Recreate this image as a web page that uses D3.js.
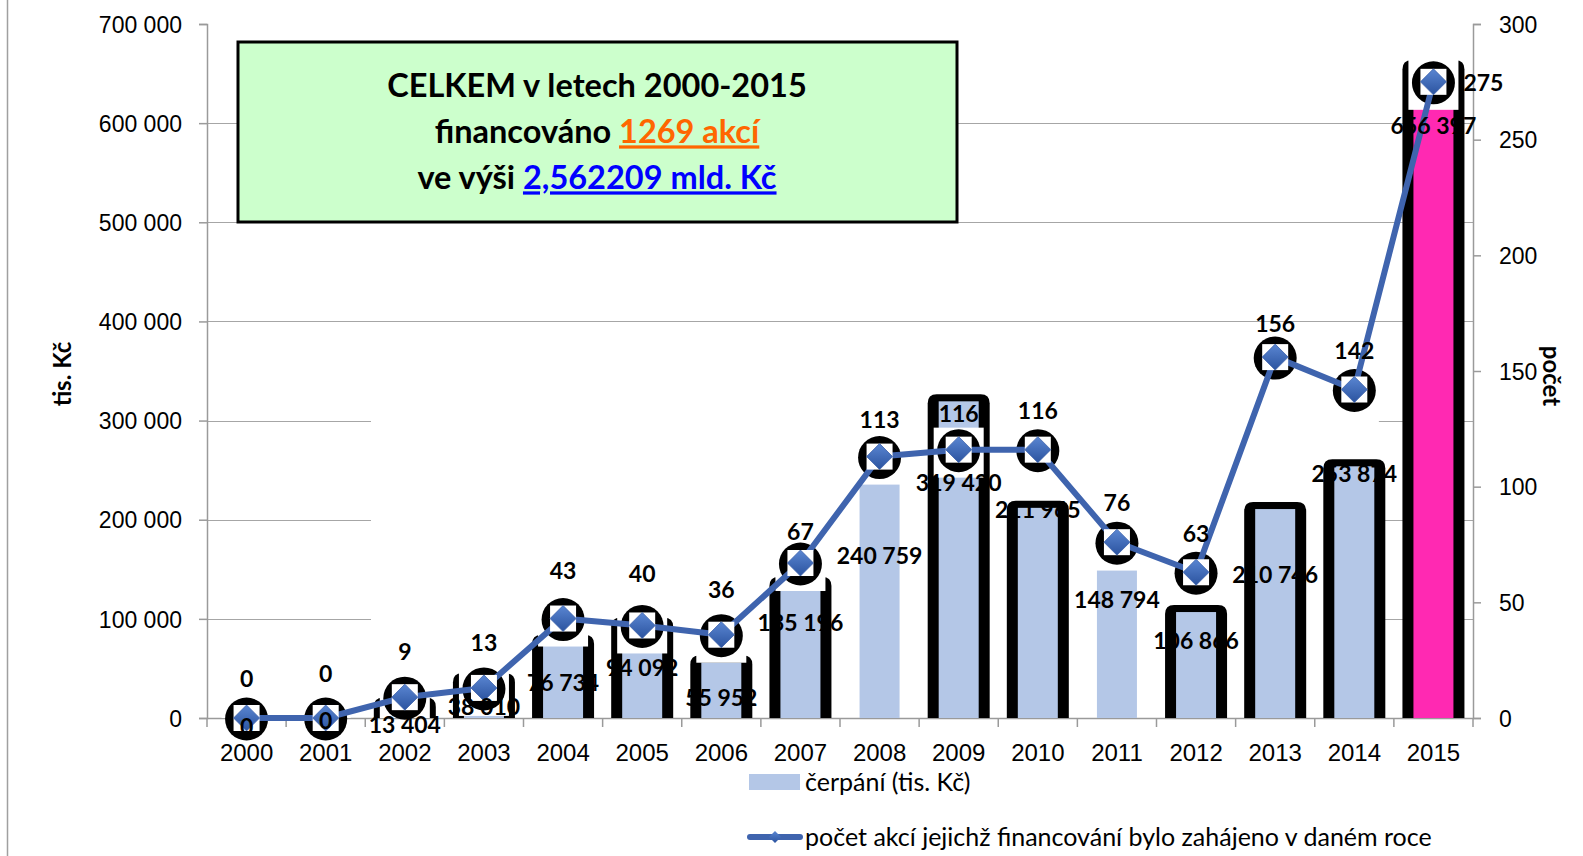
<!DOCTYPE html>
<html lang="cs">
<head>
<meta charset="utf-8">
<title>Čerpání a počet akcí 2000-2015</title>
<style>
body { margin:0; background:#fff; }
svg { display:block; font-family: Lato, "Open Sans", sans-serif; }
.tick-label { font-size:23px; fill:#000; }
.xlab { font-size:24px; fill:#000; }
.val { font-size:23px; font-weight:bold; fill:#000; }
.axis-title { font-size:24px; font-weight:bold; fill:#000; }
.legend text { font-size:25px; fill:#000; }
</style>
</head>
<body>
<svg id="chart" width="1583" height="856"></svg>
<script src="https://cdn.jsdelivr.net/npm/d3@7"></script>
<script>

// data
var years = ["2000","2001","2002","2003","2004","2005","2006","2007","2008","2009","2010","2011","2012","2013","2014","2015"];
var cerpani = [0, 0, 13404, 38010, 76734, 94092, 55952, 135196, 240759, 319420, 211965, 148794, 106866, 210746, 253874, 656397];
var pocet = [0, 0, 9, 13, 43, 40, 36, 67, 113, 116, 116, 76, 63, 156, 142, 275];
var leftTicks = [0, 100000, 200000, 300000, 400000, 500000, 600000, 700000];
var rightTicks = [0, 50, 100, 150, 200, 250, 300];

// which bars have the heavy black frame, which one is highlighted
var framed = [1,1,1,1,1,1,1,1,0,1,1,0,1,1,1,1];
var highlightYear = "2015";
// label nudges (px) as placed in the original
var barLabelDy = [9, 3, 20, 27, 41, 43, 35, 39, 77, 82, 2, 29, 29, 66, 8, 59];
var lineLabelDy = [-39, -44, -45, -45, -48, -52, -45, -31, -37, -36, -39, -39, -38, -33, -39, 1];

var svg = d3.select("#chart");
var margin = {left: 207, right: 1473, top: 24, bottom: 718};

var loc = d3.formatLocale({decimal: ",", thousands: " ", grouping: [3], currency: ["", ""]});
var fmt = loc.format(",d");

var x = d3.scaleBand().domain(years).range([margin.left, margin.right]);
var yL = d3.scaleLinear().domain([0, 700000]).range([margin.bottom, margin.top]);
var yR = d3.scaleLinear().domain([0, 300]).range([margin.bottom, margin.top]);
var bw = x.bandwidth();
function cx(d) { return x(d) + bw / 2; }

var defs = svg.append("defs");
var grad = defs.append("linearGradient").attr("id", "dia").attr("x1", 0).attr("y1", 0).attr("x2", 0).attr("y2", 1);
grad.append("stop").attr("offset", "0%").attr("stop-color", "#5a86d2");
grad.append("stop").attr("offset", "100%").attr("stop-color", "#2b539f");
defs.append("clipPath").attr("id", "plotclip").append("rect")
  .attr("x", 0).attr("y", 0).attr("width", 1583).attr("height", margin.bottom);

// outer frame line on the left
svg.append("line").attr("x1", 7.5).attr("x2", 7.5).attr("y1", 0).attr("y2", 856)
  .attr("stroke", "#a0a0a0").attr("stroke-width", 1.5);

// gridlines
svg.append("g").selectAll("line").data(leftTicks.filter(function(t){ return t > 0 && t < 700000; }))
  .enter().append("line")
  .attr("x1", margin.left).attr("x2", margin.right)
  .attr("y1", function(d){ return Math.round(yL(d)) + 0.5; })
  .attr("y2", function(d){ return Math.round(yL(d)) + 0.5; })
  .attr("stroke", "#a6a6a6").attr("stroke-width", 1.2);

// inner white panel hides the lower gridlines (as in the source)
svg.append("rect").attr("x", 371).attr("y", yL(380000))
  .attr("width", x("2015") - 15 - 371).attr("height", margin.bottom - yL(380000))
  .attr("fill", "#fff");

// axes
var axisCol = "#9a9a9a";
var gL = svg.append("g").attr("transform", "translate(" + margin.left + ",0)")
  .call(d3.axisLeft(yL).tickValues(leftTicks).tickSize(8).tickFormat(fmt).tickPadding(17));
var gR = svg.append("g").attr("transform", "translate(" + margin.right + ",0)")
  .call(d3.axisRight(yR).tickValues(rightTicks).tickSize(8).tickPadding(18));
[gL, gR].forEach(function(g) {
  g.select(".domain").attr("stroke", axisCol).attr("stroke-width", 1.5);
  g.selectAll(".tick line").attr("stroke", axisCol).attr("stroke-width", 1.5);
  g.selectAll(".tick text").attr("class", "tick-label").attr("font-family", null).attr("font-size", null)
    .attr("dy", "0.36em");
});

var gX = svg.append("g").attr("transform", "translate(0," + margin.bottom + ")")
  .call(d3.axisBottom(x).tickSize(0).tickPadding(0));
gX.select(".domain").attr("stroke", axisCol).attr("stroke-width", 1.5);
gX.selectAll(".tick text").attr("class", "xlab").attr("font-family", null).attr("font-size", null)
  .attr("y", 35).attr("dy", "0.35em");
gX.selectAll("line.sep").data(years.concat(["end"])).enter().append("line")
  .attr("x1", function(d, i){ return margin.left + i * bw; })
  .attr("x2", function(d, i){ return margin.left + i * bw; })
  .attr("y1", 0).attr("y2", 9)
  .attr("stroke", axisCol).attr("stroke-width", 1.5);

// title box
var box = svg.append("g");
box.append("rect").attr("x", 238).attr("y", 42).attr("width", 719).attr("height", 180)
  .attr("fill", "#ccffcc").attr("stroke", "#000").attr("stroke-width", 3);
var tcx = 597;
box.append("text").attr("x", tcx).attr("y", 86).attr("text-anchor", "middle").attr("dy", "0.35em")
  .attr("font-size", 32.5).attr("font-weight", "bold").text("CELKEM v letech 2000-2015");
var t2 = box.append("text").attr("x", tcx).attr("y", 132).attr("text-anchor", "middle").attr("dy", "0.35em")
  .attr("font-size", 32.5).attr("font-weight", "bold");
t2.append("tspan").text("financováno ");
t2.append("tspan").attr("fill", "#ff6600").attr("text-decoration", "underline").text("1269 akcí");
var t3 = box.append("text").attr("x", tcx).attr("y", 178).attr("text-anchor", "middle").attr("dy", "0.35em")
  .attr("font-size", 32.5).attr("font-weight", "bold");
t3.append("tspan").text("ve výši ");
t3.append("tspan").attr("fill", "#0000ff").attr("text-decoration", "underline").text("2,562209 mld. Kč");

// bars
var barData = years.map(function(y, i) { return {year: y, v: cerpani[i], n: pocet[i], framed: framed[i], i: i}; });
var bars = svg.append("g").selectAll("g").data(barData).enter().append("g");
bars.filter(function(d){ return d.framed && d.v > 0; }).append("path")
  .attr("d", function(d) {
    var x0 = cx(d.year) - 31, x1 = cx(d.year) + 31, top = yL(d.v) - 7, r = 9, b = margin.bottom;
    if (b - top < r) r = Math.max(0, b - top);
    return "M" + x0 + "," + b + "V" + (top + r) + "Q" + x0 + "," + top + " " + (x0 + r) + "," + top +
      "H" + (x1 - r) + "Q" + x1 + "," + top + " " + x1 + "," + (top + r) + "V" + b + "Z";
  })
  .attr("fill", "#000");
bars.append("rect")
  .attr("x", function(d){ return cx(d.year) - 20; })
  .attr("width", 40)
  .attr("y", function(d){ return yL(d.v); })
  .attr("height", function(d){ return margin.bottom - yL(d.v); })
  .attr("fill", function(d){ return d.year === highlightYear ? "#ff29b2" : "#b4c7e7"; });

// marker backdrops
var mk = svg.append("g");
mk.append("g").attr("clip-path", "url(#plotclip)").selectAll("rect").data(barData).enter().append("rect")
  .attr("x", function(d){ return cx(d.year) - 25; })
  .attr("y", function(d){ return yR(d.n) - 22; })
  .attr("width", 50).attr("height", 50).attr("fill", "#fff");
mk.selectAll("circle").data(barData).enter().append("circle")
  .attr("cx", function(d){ return cx(d.year); })
  .attr("cy", function(d){ return yR(d.n) + 1; })
  .attr("r", 21.5).attr("fill", "#000");

// line
var line = d3.line().x(function(d){ return cx(d.year); }).y(function(d){ return yR(d.n); });
svg.append("path").datum(barData).attr("d", line)
  .attr("fill", "none").attr("stroke", "#3f64ae").attr("stroke-width", 6).attr("stroke-linejoin", "round");

var mk2 = svg.append("g").selectAll("g").data(barData).enter().append("g")
  .attr("transform", function(d){ return "translate(" + cx(d.year) + "," + yR(d.n) + ")"; });
mk2.append("rect").attr("x", -13).attr("y", -13).attr("width", 26).attr("height", 26).attr("fill", "#fff");
mk2.append("path").attr("d", "M0,-13L13,0L0,13L-13,0Z").attr("fill", "url(#dia)").attr("stroke", "#3b61ab").attr("stroke-width", 0.8);

// bar value labels
svg.append("g").selectAll("text").data(barData).enter().append("text")
  .attr("class", "val")
  .attr("x", function(d){ return cx(d.year); })
  .attr("y", function(d){ return yL(d.v) + barLabelDy[d.i]; })
  .attr("dy", "0.35em").attr("text-anchor", "middle")
  .text(function(d){ return fmt(d.v); });

// line value labels
svg.append("g").selectAll("text").data(barData).enter().append("text")
  .attr("class", "val")
  .attr("x", function(d){ return d.year === highlightYear ? cx(d.year) + 30 : cx(d.year); })
  .attr("y", function(d){ return yR(d.n) + lineLabelDy[d.i]; })
  .attr("dy", "0.35em")
  .attr("text-anchor", function(d){ return d.year === highlightYear ? "start" : "middle"; })
  .text(function(d){ return d.n; });

// axis titles
svg.append("text").attr("class", "axis-title").attr("text-anchor", "middle")
  .attr("transform", "translate(63,374) rotate(-90)").attr("dy", "0.35em").text("tis. Kč");
svg.append("text").attr("class", "axis-title").attr("text-anchor", "middle")
  .attr("transform", "translate(1551,376) rotate(90)").attr("dy", "0.35em").text("počet");

// legend
var lg = svg.append("g").attr("class", "legend");
lg.append("rect").attr("x", 749).attr("y", 774).attr("width", 51).attr("height", 16).attr("fill", "#b4c7e7");
lg.append("text").attr("x", 805).attr("y", 782).attr("dy", "0.35em").text("čerpání (tis. Kč)");
lg.append("line").attr("x1", 750).attr("x2", 800).attr("y1", 837).attr("y2", 837)
  .attr("stroke", "#3f64ae").attr("stroke-width", 6).attr("stroke-linecap", "round");
lg.append("path").attr("d", "M775,831L781,837L775,843L769,837Z").attr("fill", "url(#dia)");
lg.append("text").attr("x", 805).attr("y", 837).attr("dy", "0.35em")
  .text("počet akcí jejichž financování bylo zahájeno v daném roce");

</script>
</body>
</html>
